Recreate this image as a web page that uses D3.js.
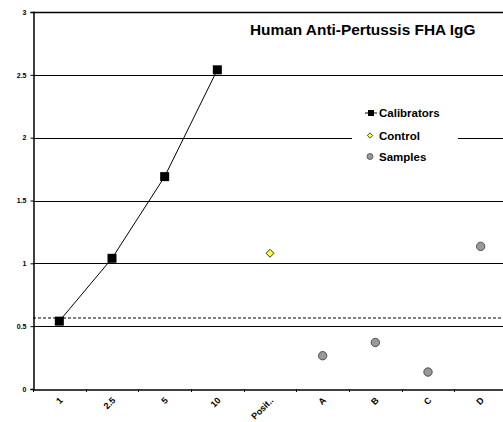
<!DOCTYPE html>
<html><head><meta charset="utf-8">
<script src="https://cdn.jsdelivr.net/npm/d3@7"></script>
<style>body{margin:0;background:#fff}svg{display:block;font-family:"Liberation Sans",Arial,sans-serif}</style>
</head><body>
<script>
const categories = ["1","2.5","5","10","Posit..","A","B","C","D"];
const calibrators = [ {cat:"1",v:0.54},{cat:"2.5",v:1.04},{cat:"5",v:1.69},{cat:"10",v:2.54} ];
const control = [ {cat:"Posit..",v:1.08} ];
const samples = [ {cat:"A",v:0.265},{cat:"B",v:0.37},{cat:"C",v:0.135},{cat:"D",v:1.135} ];
const cutoff = 0.565;
const yTicks = [0,0.5,1,1.5,2,2.5,3];
const yTickLabels = ["0","0.5","1","1.5","2","2.5","3"];
const title = "Human Anti-Pertussis FHA IgG";
const legendItems = ["Calibrators","Control","Samples"];

const W=503,H=422;
const m={left:33,top:12,right:-4,bottom:33};
const svg=d3.select("body").append("svg").attr("width",W).attr("height",H);
const x=d3.scaleBand().domain(categories).range([m.left,W-m.right]);
const y=d3.scaleLinear().domain([0,3]).range([H-m.bottom,m.top]);
const cx=d=>x(d)+x.bandwidth()/2;

// gridlines
svg.append("g").selectAll("line").data(yTicks.filter(t=>t>0)).join("line")
  .attr("x1",m.left).attr("x2",W).attr("y1",d=>Math.round(y(d))+0.5).attr("y2",d=>Math.round(y(d))+0.5)
  .attr("stroke","#000").attr("stroke-width",1);

// y axis
const ya=svg.append("g").attr("transform",`translate(${m.left+0.5},0)`)
  .call(d3.axisLeft(y).tickValues(yTicks).tickFormat((d,i)=>yTickLabels[i]).tickSize(3).tickPadding(4));
ya.selectAll("text").attr("font-size",7).attr("font-weight","bold").attr("fill","#000").attr("font-family","Liberation Sans, Arial");
ya.select(".domain").attr("stroke","#000").attr("stroke-width",1.5);

// x axis
const xa=svg.append("g").attr("transform",`translate(0,${Math.round(y(0))+0.5})`)
  .call(d3.axisBottom(x).tickSize(0).tickFormat(""));
xa.select(".domain").attr("stroke","#000").attr("stroke-width",1.5);
svg.append("g").selectAll("line").data(categories).join("line")
  .attr("x1",d=>Math.round(x(d))+0.5).attr("x2",d=>Math.round(x(d))+0.5)
  .attr("y1",y(0)).attr("y2",y(0)+3).attr("stroke","#000");
const lab=svg.append("g").selectAll("g").data(categories).join("g")
  .attr("transform",d=>`translate(${cx(d)+4},${y(0)+12})`);
lab.append("text").attr("transform","rotate(-45)")
  .attr("text-anchor","end").attr("font-size",9).attr("font-weight","bold").text(d=>d);

// cutoff dashed
svg.append("line").attr("x1",m.left).attr("x2",W).attr("y1",y(cutoff)).attr("y2",y(cutoff))
  .attr("stroke","#000").attr("stroke-dasharray","3,2").attr("stroke-width",1);

// calibrators
svg.append("path").datum(calibrators).attr("fill","none").attr("stroke","#000").attr("stroke-width",1)
  .attr("d",d3.line().x(d=>cx(d.cat)).y(d=>y(d.v)));
svg.append("g").selectAll("rect").data(calibrators).join("rect")
  .attr("x",d=>cx(d.cat)-4.5).attr("y",d=>y(d.v)-4.5).attr("width",9).attr("height",9).attr("fill","#000");

// control
svg.append("g").selectAll("path").data(control).join("path")
  .attr("d",d3.symbol(d3.symbolDiamond2,40)).attr("transform",d=>`translate(${cx(d.cat)},${y(d.v)})`)
  .attr("fill","#ffff33").attr("stroke","#000").attr("stroke-width",0.8);

// samples
svg.append("g").selectAll("circle").data(samples).join("circle")
  .attr("cx",d=>cx(d.cat)).attr("cy",d=>y(d.v)).attr("r",4.2)
  .attr("fill","#999").attr("stroke","#333").attr("stroke-width",0.8);

// top border
svg.append("line").attr("x1",m.left).attr("x2",W).attr("y1",m.top+0.5).attr("y2",m.top+0.5).attr("stroke","#000").attr("stroke-width",1.5);

// title
svg.append("text").attr("x",250).attr("y",35).attr("font-size",15.4).attr("font-weight","bold").text(title);

// legend
const lg=svg.append("g");
lg.append("rect").attr("x",352).attr("y",100).attr("width",106).attr("height",68).attr("fill","#fff");
const ly=[113,135.5,156.5];
lg.append("line").attr("x1",365).attr("x2",377).attr("y1",ly[0]).attr("y2",ly[0]).attr("stroke","#000");
lg.append("rect").attr("x",368).attr("y",ly[0]-3).attr("width",6).attr("height",6).attr("fill","#000");
lg.append("path").attr("d",d3.symbol(d3.symbolDiamond2,18)).attr("transform",`translate(370,${ly[1]})`)
  .attr("fill","#ffff33").attr("stroke","#000").attr("stroke-width",0.7);
lg.append("circle").attr("cx",370).attr("cy",ly[2]).attr("r",3).attr("fill","#999").attr("stroke","#333").attr("stroke-width",0.7);
lg.selectAll("text").data(legendItems).join("text")
  .attr("x",379).attr("y",(d,i)=>ly[i]+4).attr("font-size",11.5).attr("font-weight","bold").text(d=>d);
</script>
</body></html>
